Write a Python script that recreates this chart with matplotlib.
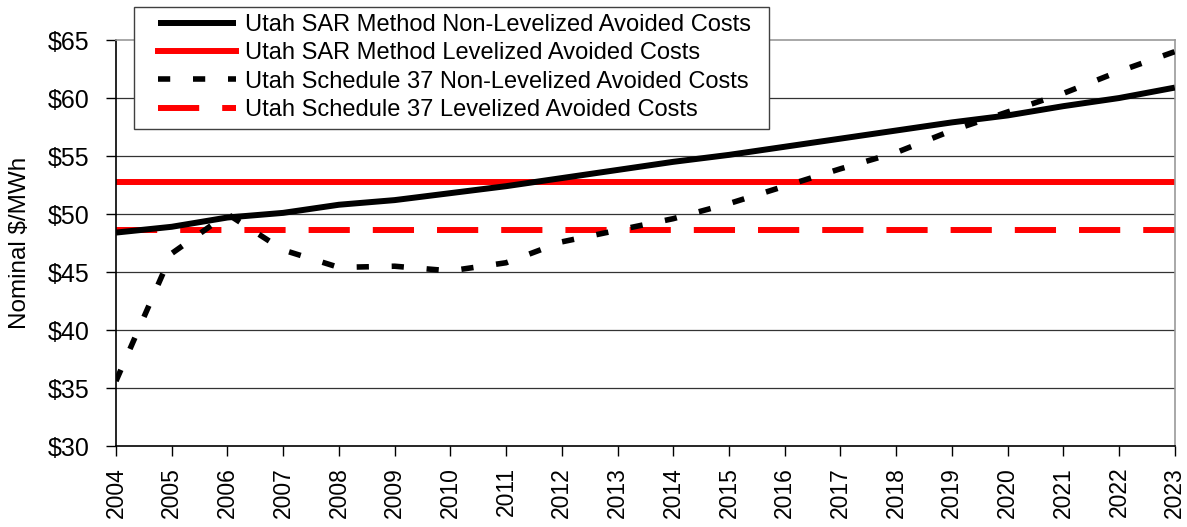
import numpy as np
import matplotlib
matplotlib.use('Agg')
from matplotlib import pyplot as plt
from matplotlib.patches import Rectangle

plt.rcParams['font.family'] = ['Liberation Sans', 'DejaVu Sans']

years = list(range(2004, 2024))
sar_nonlev = [48.4, 48.9, 49.7, 50.1, 50.8, 51.2, 51.8, 52.4, 53.1, 53.8,
              54.5, 55.1, 55.8, 56.5, 57.2, 57.9, 58.5, 59.3, 60.0, 60.9]
sar_lev = 52.75
sch37_nonlev = [35.6, 46.6, 50.0, 46.9, 45.4, 45.5, 45.1, 45.8, 47.6, 48.6,
                49.6, 50.9, 52.4, 53.9, 55.3, 57.2, 58.8, 60.4, 62.3, 64.0]
sch37_lev = 48.6
yticks = [30, 35, 40, 45, 50, 55, 60, 65]

W, H = 1187, 527
fig = plt.figure(figsize=(W / 100, H / 100), dpi=100)
ax = fig.add_axes([0.0977, 0.1537, 0.892, 0.7703])

for y in yticks[1:-1]:
    ax.axhline(y, color='#333333', lw=0.9, zorder=1)

ax.plot(years, sar_nonlev, color='black', lw=4.3, solid_capstyle='butt',
        label='Utah SAR Method Non-Levelized Avoided Costs', zorder=3)
ax.plot(years, [sar_lev] * len(years), color='#ff0000', lw=4.3,
        label='Utah SAR Method Levelized Avoided Costs', zorder=2)
ax.plot(years, sch37_nonlev, color='black', lw=4.0, dashes=(2.2, 4.1),
        label='Utah Schedule 37 Non-Levelized Avoided Costs', zorder=3)
ax.plot(years, [sch37_lev] * len(years), color='#ff0000', lw=4.3,
        dashes=(6.9, 3.85),
        label='Utah Schedule 37 Levelized Avoided Costs', zorder=2)

ax.set_xlim(2004, 2023)
ax.set_ylim(30, 65)
ax.set_xticks(years)
ax.set_xticklabels([str(y) for y in years], rotation=90, fontsize=16.5)
ax.set_yticks(yticks)
ax.set_yticklabels(['$%d' % v for v in yticks], fontsize=18)
ax.tick_params(axis='both', direction='out', length=7, width=1)
ax.tick_params(axis='y', pad=12)
ax.tick_params(axis='x', pad=8)
ax.set_ylabel('Nominal $/MWh', fontsize=17.5)
ax.yaxis.set_label_coords(-0.08, 0.5)

ax.spines['left'].set_color('black')
ax.spines['bottom'].set_color('black')
ax.spines['top'].set_color('#999999')
ax.spines['right'].set_color('#999999')
for s in ax.spines.values():
    s.set_linewidth(1.2)

# legend frame (wider side padding than matplotlib's borderpad allows)
frame = Rectangle((134 / W, 1 - 129 / H), (769 - 134) / W, (129 - 7) / H,
                  transform=fig.transFigure, facecolor='white',
                  edgecolor='#404040', lw=1.0, zorder=4)
fig.patches.append(frame)

h, l = ax.get_legend_handles_labels()
leg = fig.legend(h, l, loc='upper left', bbox_to_anchor=(158 / W, 1 - 14 / H),
                 fontsize=17, handlelength=3.3, borderaxespad=0,
                 frameon=False, labelspacing=0.27, borderpad=0,
                 handletextpad=0.4)
leg.set_zorder(5)

fig.savefig('out.png', dpi=100)
